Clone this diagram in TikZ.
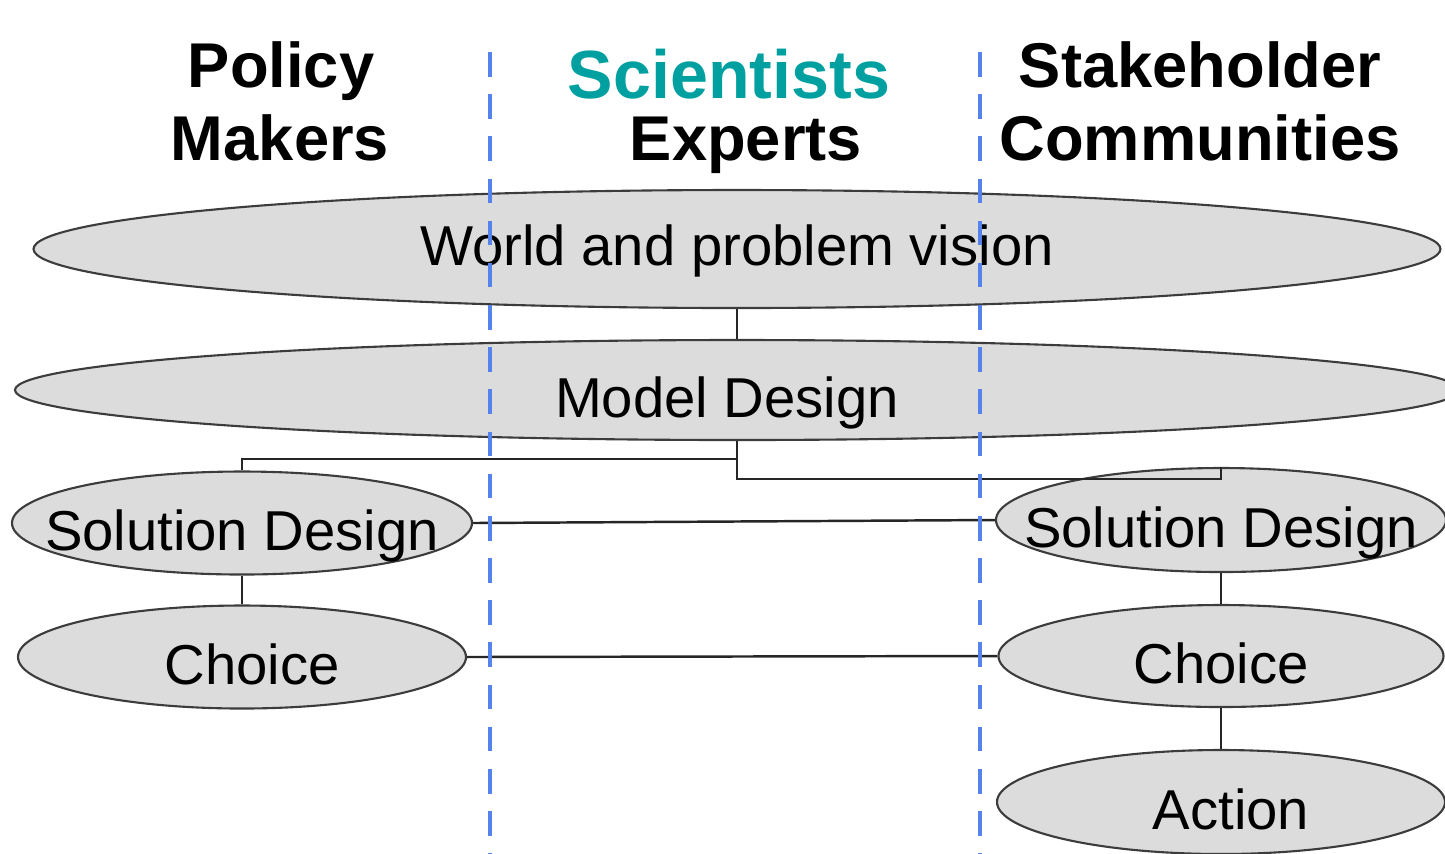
\documentclass[tikz,border=0pt]{standalone}
\usepackage{fontspec}
\setmainfont{Liberation Sans}
\usetikzlibrary{shapes.geometric}
\definecolor{bubblegray}{RGB}{220,220,220}
\definecolor{rimgray}{RGB}{60,60,60}
\definecolor{sciteal}{RGB}{0,160,160}
\definecolor{laneblue}{RGB}{85,130,235}
% label that does not widen its ellipse
\newcommand{\lbl}[2][-0.27cm]{\raisebox{#1}[0pt][0pt]{\makebox[0pt]{#2}}}

\begin{document}
\begin{tikzpicture}[
		bubble/.style={ellipse,draw=rimgray,fill=bubblegray,line width=0.6pt,inner sep=0pt,font=\fontsize{16}{19}\selectfont},
		head/.style={anchor=base,inner sep=0pt,font=\fontsize{18}{21}\bfseries\selectfont},
		link/.style={draw=black!85,line width=0.7pt},
		lane/.style={draw=laneblue,line width=1.1pt,dash pattern=on 7pt off 5pt}]
			\useasboundingbox (0,0) rectangle (14.45,-8.53);
			\clip (0,0) rectangle (14.45,-8.53);
			
			% column heads
			\node(policy) at (2.81,-0.87)[head]{Policy};
			\node(makers) at (2.80,-1.60)[head]{Makers};
			\node(scientists) at (7.29,-0.98)[head,text=sciteal,font=\fontsize{19.4}{22}\bfseries\selectfont]{Scientists};
			\node(experts) at (7.46,-1.60)[head]{Experts};
			\node(stakeholder) at (12.00,-0.87)[head]{Stakeholder};
			\node(communities) at (12.00,-1.60)[head]{Communities};
			
			% shared stages
			\node(world) at (7.37,-2.49)[bubble,minimum width=14.07cm,minimum height=1.18cm]{\lbl[-0.16cm]{World and problem vision}};
			\node(model) at (7.37,-3.90)[bubble,minimum width=14.44cm,minimum height=1.00cm]{\lbl{Model Design\hspace{0.2cm}}};
			
			% policy makers side
			\node(lsd) at (2.42,-5.23)[bubble,minimum width=4.60cm,minimum height=1.03cm]{\lbl{Solution Design}};
			\node(lch) at (2.42,-6.57)[bubble,minimum width=4.48cm,minimum height=1.03cm]{\lbl{\hspace{0.2cm}Choice}};
			
			% stakeholder side
			\node(rsd) at (12.21,-5.20)[bubble,minimum width=4.50cm,minimum height=1.04cm]{\lbl{Solution Design}};
			\node(rch) at (12.21,-6.56)[bubble,minimum width=4.45cm,minimum height=1.02cm]{\lbl{Choice}};
			\node(act) at (12.21,-8.02)[bubble,minimum width=4.48cm,minimum height=1.04cm]{\lbl{\hspace{0.2cm}Action}};
			
			\coordinate(split) at ([yshift=-0.18cm]model.south);
			\draw[link] (world.south) to (model.north);
			\draw[link] (model.south) to (split) -| (lsd.north);
			\draw[link] (split) -- ++(0,-0.20) -| ([yshift=-0.10cm]rsd.north) to (rsd.north);
			\draw[link] (lsd.east) to (rsd.west);
			\draw[link] (lch.east) to (rch.west);
			\draw[link] (lsd.south) to (lch.north);
			\draw[link] (rsd.south) to (rch.north) (rch.south) to (act.north);
			
			% lane dividers
			\draw[lane] (4.90,-0.52) -- (4.90,-8.80);
			\draw[lane] (9.80,-0.52) -- (9.80,-8.80);
		\end{tikzpicture}
\end{document}
